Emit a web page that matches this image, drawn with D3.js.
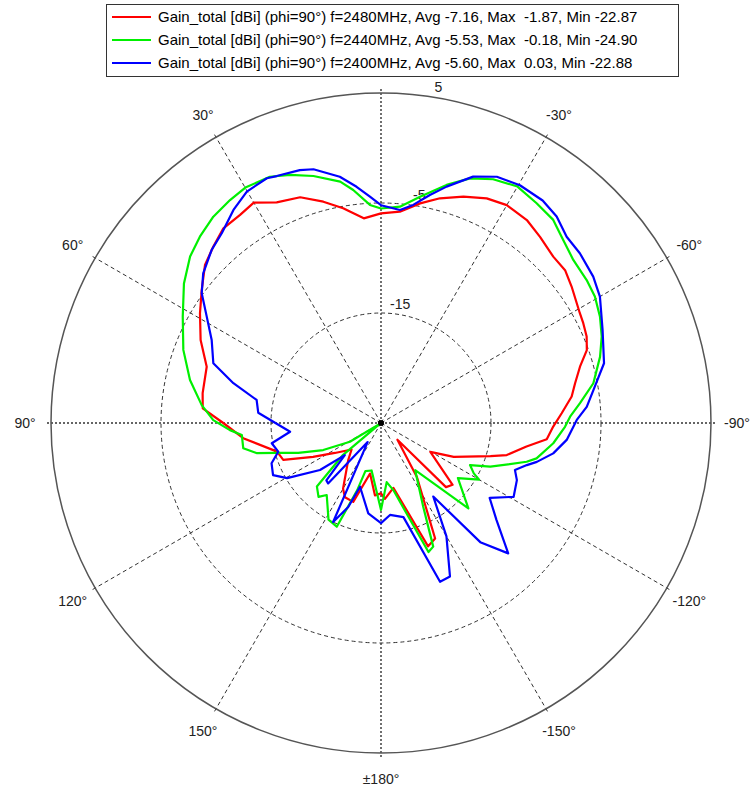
<!DOCTYPE html>
<html>
<head>
<meta charset="utf-8">
<script src="https://cdn.jsdelivr.net/npm/d3@7"></script>
<style>
  body { margin: 0; background: #fff; }
  text { font-family: "Liberation Sans", Arial, sans-serif; }
</style>
</head>
<body>
<svg width="753" height="793"></svg>
<script>
// angle ticks (deg, positive = counter-clockwise from top) and their labels
var angleTicks = [30, 60, 90, 120, 150, 180, -150, -120, -90, -60, -30];
var angleLabels = ["30°", "60°", "90°", "120°", "150°", "±180°", "-150°", "-120°", "-90°", "-60°", "-30°"];
var ringTicks = [-15, -5, 5];

var seriesNames = [
    "Gain_total [dBi] (phi=90°) f=2480MHz, Avg -7.16, Max \u00a0-1.87, Min -22.87",
    "Gain_total [dBi] (phi=90°) f=2440MHz, Avg -5.53, Max \u00a0-0.18, Min -24.90",
    "Gain_total [dBi] (phi=90°) f=2400MHz, Avg -5.60, Max \u00a00.03, Min -22.88"
];
var seriesColors = ["#ff0000", "#00f000", "#0000ff"];

// 2480 MHz
var ang2480 = [0, 4.8, 10, 14.6, 19.7, 25.3, 30, 34.1, 39, 43.6, 48.1, 53.4, 58.8, 65.3, 72.1, 80.5, 85.3, 90,
    96.3, 105.4, 110.7, 116.5, 123, 132, 138.5, 150, 154.1, 160.6, 167.8, 175.2, 180,
    -177, -169.2, -159.1, -154.9, -146.4, -135.5, -134.6, -130.8, -120.4, -115, -106.8, -104.3, -99.2, -95.6,
    -91.2, -86.9, -82.1, -78.5, -74.2, -70.5, -67.2, -63.8, -61.1, -54.4, -50.3, -46, -40.5, -35.7, -31.8,
    -30, -25.2, -20, -14.7, -10.1, -5.1];
var gain2480 = [-5.94, -6.33, -5.18, -4.21, -3.2, -2.81, -1.87, -2.15, -2.23, -2.88, -3.5, -4.7, -5.76, -6.95, -8.35, -8.56, -8.74, -10.66,
    -12.4, -15.2, -15.5, -18.1, -20.0, -21.4, -20.5, -18.1, -17.5, -17.4, -20.3, -18.4, -18.6,
    -18.1, -19.0, -13.0, -13.4, -19.1, -22.87, -16.7, -16.4, -19.8, -17.7, -14.6, -13.2, -11.6, -9.86,
    -9.34, -8.55, -7.5, -7.0, -6.2, -5.15, -4.72, -4.5, -4.35, -3.69, -3.25, -3.23, -2.74, -2.28, -2.2,
    -2.13, -2.43, -3.1, -3.88, -4.72, -5.71];

// 2440 MHz
var ang2440 = [0, 2.9, 6.8, 9.6, 15.3, 20.1, 24.3, 29.8, 34.1, 39.1, 44.2, 48.9, 54.7, 61.8, 69.7, 77.3, 84.3, 89,
    92.7, 94.9, 100.4, 103.7, 105.9, 109.8, 115.1, 121.1, 125, 130, 134.7, 139.8, 143, 151.5, 156.9, 160.5, 162,
    168.8, 180, -174.5, -169.6, -159.8, -157.1, -153.2, -144.1, -134.3, -125.6, -120, -118.5, -115.3, -111.8,
    -104.9, -102.8, -96.7, -91.2, -88.1, -84.3, -79.4, -73.2, -68.6, -64.1, -59.4, -55.2, -49.7, -44.1, -40.3,
    -35.3, -30, -24.7, -20, -15.4, -9.8, -5];
var gain2440 = [-5.5, -5.15, -3.67, -2.75, -1.72, -0.98, -0.44, -0.3, -0.52, -0.83, -1.38, -1.97, -3.05, -4.55, -5.84, -7.2, -8.62, -9.75,
    -11.25, -12.3, -12.27, -13.4, -15.1, -17.0, -19.2, -21.7, -24.9, -20.5, -16.8, -16.2, -16.8, -15.0, -14.75, -18.5, -20.4,
    -20.6, -17.1, -19.6, -18.8, -12.5, -12.8, -16.5, -19.7, -13.9, -16.4, -14.7, -15.4, -16.05, -14.3,
    -11.3, -10.5, -9.23, -8.27, -7.8, -6.82, -5.36, -4.2, -3.45, -2.87, -2.41, -2.23, -2.08, -1.41, -0.79,
    -0.52, -0.18, -0.61, -1.33, -2.55, -4.13, -5.26];

// 2400 MHz
var ang2400 = [0, 2.8, 5.9, 9.5, 14.9, 17.8, 22.9, 25, 30.1, 34.7, 40, 44.4, 49.9, 54.1, 58.6, 63.9, 70.4, 74.9,
    79.5, 85.2, 95.5, 100.5, 105.6, 110.2, 115.8, 120.4, 127.6, 131.6, 136.4, 138.8, 145, 154.2, 158.7, 161.8,
    172, 180, -174.4, -166.6, -159.6, -155.8, -150, -144.6, -140.2, -135.7, -130, -124.6, -119.1, -112.8,
    -109.3, -106.1, -104, -100, -95.2, -89.1, -85.5, -81.2, -75, -67.2, -60, -55.4, -49.5, -44.9, -40.4,
    -36, -30.3, -25.2, -20.5, -15.5, -12.1, -8.4, -5.1];
var gain2400 = [-5.2, -4.4, -3.41, -2.3, -1.13, -0.85, -0.63, -0.45, -0.68, -1.44, -2.48, -2.99, -3.87, -4.88, -6.44, -7.86, -8.82, -11.1,
    -13.5, -13.8, -16.7, -14.9, -15.3, -14.4, -14.1, -15.1, -18.0, -20.6, -17.8, -17.7, -22.88, -15.0, -16.8, -18.9,
    -16.7, -15.9, -16.6, -16.2, -9.6, -9.7, -13.1, -16.8, -10.9, -8.44, -11.3, -13.0, -11.2, -11.6,
    -12.1, -11.2, -10.4, -9.1, -8.05, -7.2, -6.24, -5.46, -4.01, -3.15, -2.02, -1.56, -1.23, -1.09, -0.36,
    0.0, 0.03, -0.26, -1.09, -2.7, -3.8, -4.96, -5.56];

var seriesAngles = [ang2480, ang2440, ang2400];
var seriesGains = [gain2480, gain2440, gain2400];

var svg = d3.select("svg"),
    cx = 381,
    cy = 423,
    g = svg.append("g").attr("transform", "translate(" + cx + "," + cy + ")");

var r = d3.scaleLinear().domain([-25, 5]).range([0, 330]).clamp(true);
var R = r(5);

// plot angle -> d3 radial angle (clockwise from top)
function rad(a) { return -a * Math.PI / 180; }
function px(a, rr) { return rr * Math.sin(rad(a)); }
function py(a, rr) { return -rr * Math.cos(rad(a)); }

// inner rings
g.selectAll(".ring")
    .data(ringTicks.slice(0, -1))
    .enter().append("circle")
    .attr("class", "ring")
    .attr("r", function (d) { return r(d); })
    .attr("fill", "none")
    .attr("stroke", "#333")
    .attr("stroke-width", 1)
    .attr("stroke-dasharray", "4,3");

// spokes every 30 degrees
var spokes = d3.range(0, 360, 30);
g.selectAll(".spoke")
    .data(spokes)
    .enter().append("line")
    .attr("class", "spoke")
    .attr("x1", 0).attr("y1", 0)
    .attr("x2", function (d) { return px(d, R + 4); })
    .attr("y2", function (d) { return py(d, R + 4); })
    .attr("stroke", "#333")
    .attr("stroke-width", function (d) { return d % 90 === 0 ? 1.4 : 1; })
    .attr("stroke-dasharray", function (d) { return d % 90 === 0 ? "2,2" : "4,3"; });

// outer circle
g.append("circle")
    .attr("r", R)
    .attr("fill", "none")
    .attr("stroke", "#555")
    .attr("stroke-width", 1.5);

// ring labels, placed a little right of the top spoke
g.selectAll(".rlabel")
    .data(ringTicks)
    .enter().append("text")
    .attr("class", "rlabel")
    .attr("x", function (d) { return px(-10, r(d)); })
    .attr("y", function (d) { return py(-10, r(d)) - 6; })
    .attr("text-anchor", "middle")
    .attr("font-size", 14)
    .attr("fill", "#222")
    .text(function (d) { return d; });

// angle labels
g.selectAll(".alabel")
    .data(angleTicks)
    .enter().append("text")
    .attr("class", "alabel")
    .attr("x", function (d) { return px(d, R + 26); })
    .attr("y", function (d) { return py(d, R + 26); })
    .attr("dy", "0.35em")
    .attr("text-anchor", "middle")
    .attr("font-size", 14)
    .attr("fill", "#222")
    .text(function (d, i) { return angleLabels[i]; });

// curves
var line = d3.lineRadial()
    .angle(function (d) { return rad(d[0]); })
    .radius(function (d) { return r(d[1]); })
    .curve(d3.curveLinearClosed);

seriesAngles.forEach(function (angs, i) {
    var pts = angs.map(function (a, j) { return [a, seriesGains[i][j]]; });
    g.append("path")
        .datum(pts)
        .attr("fill", "none")
        .attr("stroke", seriesColors[i])
        .attr("stroke-width", 2.2)
        .attr("stroke-linejoin", "round")
        .attr("d", line);
});

// center dot
g.append("circle").attr("r", 3).attr("fill", "#000");

// legend
var lg = svg.append("g");
lg.append("rect")
    .attr("x", 106.5).attr("y", 4.5)
    .attr("width", 572).attr("height", 72)
    .attr("fill", "#fff")
    .attr("stroke", "#333")
    .attr("stroke-width", 1);

seriesNames.forEach(function (name, i) {
    var y = 17 + i * 23;
    lg.append("line")
        .attr("x1", 112).attr("x2", 151)
        .attr("y1", y).attr("y2", y)
        .attr("stroke", seriesColors[i])
        .attr("stroke-width", 2);
    lg.append("text")
        .attr("x", 158).attr("y", y)
        .attr("dy", "0.35em")
        .attr("font-size", 15)
        .attr("fill", "#000")
        .text(name);
});
</script>
</body>
</html>
